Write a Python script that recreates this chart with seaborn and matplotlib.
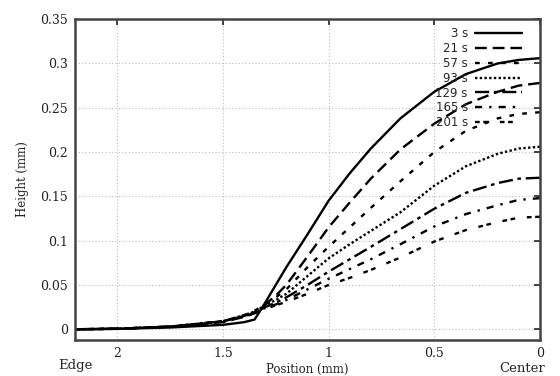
import numpy as np
import pandas as pd
import matplotlib
matplotlib.use("Agg")
import matplotlib.pyplot as plt
import seaborn as sns

# radial position (mm), 0 = center of the drop
position = [2.2, 2.0, 1.75, 1.5, 1.4, 1.35, 1.3, 1.25, 1.2, 1.1, 1.0,
            0.9, 0.8, 0.66, 0.5, 0.35, 0.2, 0.1, 0.0]

times = ["3 s", "21 s", "57 s", "93 s", "129 s", "165 s", "201 s"]

h_3 = [0.0, 0.0005, 0.002, 0.005, 0.008, 0.011, 0.03, 0.05, 0.07, 0.107, 0.145,
       0.176, 0.204, 0.238, 0.268, 0.288, 0.3, 0.304, 0.306]
h_21 = [0.0, 0.0005, 0.003, 0.008, 0.014, 0.018, 0.028, 0.038, 0.05, 0.082, 0.115,
        0.143, 0.17, 0.203, 0.232, 0.254, 0.268, 0.275, 0.278]
h_57 = [0.0, 0.0006, 0.003, 0.009, 0.016, 0.021, 0.028, 0.036, 0.045, 0.07, 0.093,
        0.115, 0.137, 0.167, 0.2, 0.224, 0.238, 0.243, 0.245]
h_93 = [0.0, 0.0006, 0.003, 0.009, 0.016, 0.02, 0.027, 0.033, 0.04, 0.06, 0.08,
        0.096, 0.111, 0.132, 0.162, 0.184, 0.198, 0.204, 0.206]
h_129 = [0.0, 0.0006, 0.003, 0.009, 0.015, 0.019, 0.025, 0.03, 0.036, 0.05, 0.065,
         0.079, 0.093, 0.113, 0.136, 0.154, 0.165, 0.17, 0.171]
h_165 = [0.0, 0.0006, 0.003, 0.009, 0.015, 0.019, 0.024, 0.028, 0.033, 0.045, 0.057,
         0.068, 0.079, 0.096, 0.116, 0.13, 0.14, 0.146, 0.148]
h_201 = [0.0, 0.0006, 0.003, 0.009, 0.015, 0.018, 0.023, 0.027, 0.031, 0.04, 0.05,
         0.058, 0.067, 0.081, 0.099, 0.112, 0.121, 0.126, 0.127]

heights = [h_3, h_21, h_57, h_93, h_129, h_165, h_201]

styles = ["-", (0, (5, 2.5)), (0, (2, 3.5)), (0, (1, 1)), (0, (6, 2, 1.5, 2)),
          (0, (3, 3, 1, 3)), (0, (2, 1.5, 2, 5))]

xticks = [2, 1.5, 1, 0.5, 0]
yticks = [0, 0.05, 0.1, 0.15, 0.2, 0.25, 0.3, 0.35]

sns.set_style("white")
plt.rcParams["font.family"] = ["DejaVu Serif"]

fig = plt.figure(figsize=(5.6, 3.76), dpi=100)
ax = fig.add_axes([0.134, 0.096, 0.830, 0.853])

for label, vals, ls in zip(times, heights, styles):
    df = pd.DataFrame({"Position": position, "Height": vals})
    sns.lineplot(data=df, x="Position", y="Height", ax=ax, color="black",
                 linestyle=ls, linewidth=1.7, label=label)

ax.set_xlim(2.2, 0)
ax.set_ylim(-0.012, 0.35)
ax.set_xticks(xticks)
ax.set_xticklabels(["2", "1.5", "1", "0.5", "0"])
ax.set_yticks(yticks)
ax.set_yticklabels(["0", "0.05", "0.1", "0.15", "0.2", "0.25", "0.3", "0.35"])
ax.grid(True, linestyle=(0, (1, 2)), color="#bbbbbb", linewidth=0.8)
ax.tick_params(direction="in", length=4, width=1.2, top=True, right=True,
               labelsize=9, colors="#222222", pad=5)
for sp in ax.spines.values():
    sp.set_color("#444444")
    sp.set_linewidth(1.8)

ax.set_xlabel("Position (mm)", fontsize=8.5, labelpad=2)
ax.set_ylabel("Height (mm)", fontsize=8.5, labelpad=8)
fig.text(75 / 560, 1 - 366 / 376, "Edge", fontsize=9.5, ha="center", va="center")
fig.text(522 / 560, 1 - 368 / 376, "Center", fontsize=9.5, ha="center", va="center")

leg = ax.legend(loc="upper right", bbox_to_anchor=(0.972, 0.989), borderaxespad=0,
                frameon=False, markerfirst=False, handlelength=4.0,
                labelspacing=0.15, handletextpad=0.6,
                prop={"family": "DejaVu Sans", "size": 8.5})

fig.savefig("out.png", dpi=100)
